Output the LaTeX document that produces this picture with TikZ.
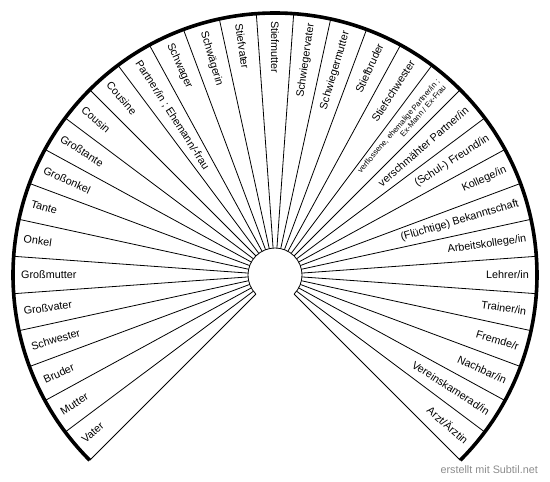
\documentclass[tikz,border=0pt]{standalone}
\usepackage{fontspec}
\setmainfont{Liberation Sans}
\begin{document}
\begin{tikzpicture}[x=1pt,y=1pt,
  radial/.style={draw=black,line width=0.8pt},
  outerarc/.style={draw=black,line width=3.6pt},
  lbl/.style={inner sep=0pt,font=\fontsize{10.8}{12}\selectfont},
  smalllbl/.style={inner sep=0pt,align=right,font=\fontsize{7.8}{8.6}\selectfont},
  footer/.style={inner sep=0pt,anchor=east,text=black!45,font=\fontsize{10.8}{12}\selectfont}]
\useasboundingbox (-275,-207) rectangle (275,275);
\pgfmathsetmacro{\secang}{270/33}
\def\Rin{27}
\def\Rout{262}
\def\Rlbl{254}
% radial separators
\foreach \k in {0,...,33}{
  \pgfmathsetmacro{\ang}{225-\k*\secang}
  \draw[radial] (\ang:\Rin) -- (\ang:\Rout);
}
% inner arc
\draw[radial] (225:\Rin) arc[start angle=225,end angle=-45,radius=\Rin];
% outer arc
\draw[outerarc] (225:\Rout) arc[start angle=225,end angle=-45,radius=\Rout];
% labels
\foreach \t [count=\i] in {Vater,Mutter,Bruder,Schwester,Gro{\ss}vater,Gro{\ss}mutter,Onkel,Tante,Gro{\ss}onkel,Gro{\ss}tante,Cousin,Cousine,{Partner/in ; Ehemann/-frau},Schwager,Schwägerin,Stiefvater,Stiefmutter,Schwiegervater,Schwiegermutter,Stiefbruder,Stiefschwester,{},verschmähter Partner/in,{(Schul-) Freund/in},Kollege/in,{(Flüchtige) Bekanntschaft},Arbeitskollege/in,Lehrer/in,Trainer/in,Fremde/r,Nachbar/in,Vereinskamerad/in,Arzt/Ärztin}{
  \pgfmathsetmacro{\ang}{225-(\i-0.5)*\secang}
  \ifnum\i<18
    \node[lbl,anchor=west,rotate=\ang-180] (l\i) at (\ang:\Rlbl) {\t};
  \else
    \node[lbl,anchor=east,rotate=\ang] (l\i) at (\ang:\Rlbl) {\t};
  \fi
}
\pgfmathsetmacro{\angv}{225-21.5*\secang}
\node[smalllbl,anchor=east,rotate=\angv] (l22v) at (\angv:\Rlbl) {verflossene, ehemalige Partner/in ;\\Ex-Mann / Ex-Frau};
% footer
\node[footer] (foot) at (263,-195) {erstellt mit Subtil.net};
\end{tikzpicture}
\end{document}
